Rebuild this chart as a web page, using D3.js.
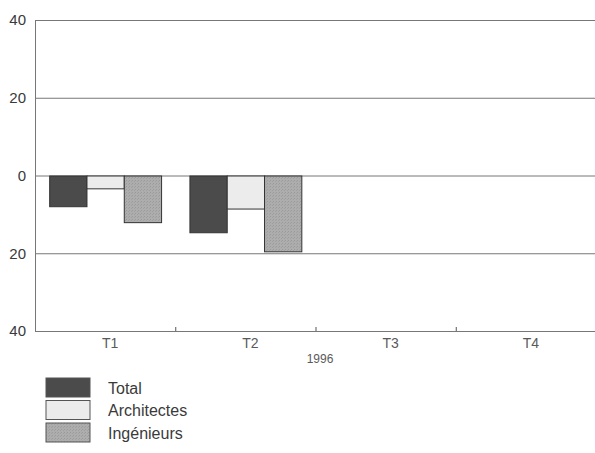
<!DOCTYPE html>
<html>
<head>
<meta charset="utf-8">
<script src="https://cdn.jsdelivr.net/npm/d3@7"></script>
<style>
  body { margin: 0; background: #fff; }
  svg { display: block; font-family: "Liberation Sans", Arial, sans-serif; }
</style>
</head>
<body>
<div id="chart"></div>
<script>
var quarters  = ['T1', 'T2', 'T3', 'T4'],
    series    = ['Total', 'Architectes', 'Ingénieurs'],
    total     = [-7.9, -14.6, null, null],
    archi     = [-3.3, -8.5, null, null],
    inge      = [-12.0, -19.5, null, null],
    yTicks    = [-40, -20, 0, 20, 40],
    yearLabel = '1996';

var width  = 595,
    height = 453,
    margin = { top: 20, right: 0, bottom: 122, left: 35 };

var svg = d3.select('#chart').append('svg')
    .attr('width', width)
    .attr('height', height);

var defs = svg.append('defs');
var pat = defs.append('pattern')
    .attr('id', 'dots')
    .attr('width', 3).attr('height', 3)
    .attr('patternUnits', 'userSpaceOnUse');
pat.append('rect').attr('width', 3).attr('height', 3).attr('fill', '#adadad');
pat.append('rect').attr('width', 1).attr('height', 1).attr('fill', '#9a9a9a');
pat.append('rect').attr('x', 2).attr('y', 1).attr('width', 1).attr('height', 1).attr('fill', '#a0a0a0');

var fills = ['#4b4b4b', '#ececec', 'url(#dots)'];
var values = [total, archi, inge];

var x = d3.scaleBand()
    .domain(quarters)
    .range([margin.left, width + 1]);

var x1 = d3.scaleBand()
    .domain(series)
    .range([0, x.bandwidth()])
    .paddingOuter(0.38)
    .paddingInner(0);

var y = d3.scaleLinear()
    .domain([-40, 40])
    .range([height - margin.bottom, margin.top]);

// gridlines
svg.append('g')
    .selectAll('line')
    .data(yTicks)
    .enter()
    .append('line')
    .attr('x1', margin.left)
    .attr('x2', width)
    .attr('y1', function(d) { return y(d) + 0.5; })
    .attr('y2', function(d) { return y(d) + 0.5; })
    .style('stroke', '#777')
    .style('stroke-width', 1);

// left axis line
svg.append('line')
    .attr('x1', margin.left + 0.5).attr('x2', margin.left + 0.5)
    .attr('y1', y(40)).attr('y2', y(-40) + 0.5)
    .style('stroke', '#777');

// y labels
svg.append('g')
    .selectAll('text')
    .data(yTicks)
    .enter()
    .append('text')
    .attr('x', 26)
    .attr('y', function(d) { return y(d); })
    .attr('dy', '0.35em')
    .attr('text-anchor', 'end')
    .style('font-size', '15px')
    .style('fill', '#3a3a3a')
    .text(function(d) { return Math.abs(d); });

// x ticks (pointing up)
svg.append('g')
    .selectAll('line')
    .data(quarters.slice(1))
    .enter()
    .append('line')
    .attr('x1', function(d) { return x(d) + 0.5; })
    .attr('x2', function(d) { return x(d) + 0.5; })
    .attr('y1', y(-40))
    .attr('y2', y(-40) - 4)
    .style('stroke', '#555');

// x labels
svg.append('g')
    .selectAll('text')
    .data(quarters)
    .enter()
    .append('text')
    .attr('x', function(d) { return x(d) + x.bandwidth() / 2 + 5; })
    .attr('y', y(-40) + 17)
    .attr('text-anchor', 'middle')
    .style('font-size', '14px')
    .style('fill', '#5a5a5a')
    .text(function(d) { return d; });

svg.append('text')
    .attr('x', 320)
    .attr('y', y(-40) + 32)
    .attr('text-anchor', 'middle')
    .style('font-size', '12px')
    .style('fill', '#5a5a5a')
    .text(yearLabel);

// bars
series.forEach(function(s, si) {
    svg.append('g')
        .selectAll('rect')
        .data(quarters.map(function(q, qi) { return { q: q, v: values[si][qi] }; })
            .filter(function(d) { return d.v !== null; }))
        .enter()
        .append('rect')
        .attr('x', function(d) { return x(d.q) + x1(s) + 0.5; })
        .attr('width', x1.bandwidth())
        .attr('y', function(d) { return y(Math.max(0, d.v)) + 0.5; })
        .attr('height', function(d) { return Math.abs(y(d.v) - y(0)); })
        .style('fill', fills[si])
        .style('stroke', '#333')
        .style('stroke-width', 1);
});

// legend
var legend = svg.append('g')
    .selectAll('g')
    .data(series)
    .enter()
    .append('g')
    .attr('transform', function(d, i) { return 'translate(46,' + (378 + i * 22.5) + ')'; });

legend.append('rect')
    .attr('width', 44)
    .attr('height', 19)
    .style('fill', function(d, i) { return fills[i]; })
    .style('stroke', '#555');

legend.append('text')
    .attr('x', 62)
    .attr('y', 10)
    .attr('dy', '0.35em')
    .style('font-size', '16px')
    .style('fill', '#3a3a3a')
    .text(function(d) { return d; });
</script>
</body>
</html>
